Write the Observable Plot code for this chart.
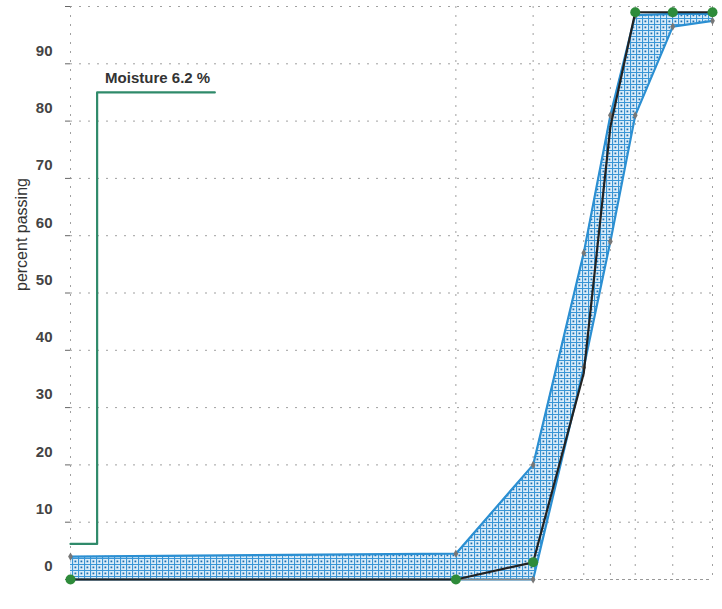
<!DOCTYPE html>
<html>
<head>
<meta charset="utf-8">
<script src="https://cdn.jsdelivr.net/npm/d3@7"></script>
<script src="https://cdn.jsdelivr.net/npm/@observablehq/plot@0.6"></script>
<style>
  html, body { margin: 0; padding: 0; background: #fff; }
  #chart svg { display: block; }
</style>
</head>
<body>
<div id="chart"></div>
<script>
// sieve sizes (mm)
const sieves = [0.063, 2, 4, 6.3, 8, 10, 14, 20];
const sieveLabels = ["0.063", "2", "4", "6.3", "8", "10", "14", "20"];
// specification envelope
const upperLimit = [4, 4.5, 20, 57, 81, 98.5, 98.7, 98.7];
const lowerLimit = [0, 0, 0, 37, 59, 81, 96.5, 97.5];
// measured grading curve
const passing = [0, 0, 3, 36, 79, 99, 99, 99];
const measuredPoint = [true, true, true, false, false, true, true, true];
// moisture indicator
const moistureX = [0.063, 0.08, 0.08, 0.23];
const moistureY = [6.2, 6.2, 85, 85];
const moistureLabel = "Moisture 6.2 %";
const yTicks = [0, 10, 20, 30, 40, 50, 60, 70, 80, 90];
const yGrid = [10, 20, 30, 40, 50, 60, 70, 80, 90, 100];

const band = sieves.map((s, i) => ({s, lo: lowerLimit[i], hi: upperLimit[i]}));
const curve = sieves.map((s, i) => ({s, p: passing[i], m: measuredPoint[i]}));
const moisture = moistureX.map((x, i) => ({x, y: moistureY[i]}));

const font = "Arial, 'Liberation Sans', sans-serif";

const chart = Plot.plot({
  width: 722,
  height: 609,
  marginLeft: 70,
  marginRight: 10,
  marginTop: 6,
  marginBottom: 30,
  style: {fontFamily: font, fontSize: "15px", color: "#333", background: "#fff"},
  x: {type: "log", domain: [0.063, 20]},
  y: {domain: [0, 100]},
  marks: [
    Plot.gridY(yGrid, {stroke: "#888", strokeOpacity: 0.8, strokeDasharray: "2,7"}),
    Plot.gridX(sieves, {stroke: "#888", strokeOpacity: 0.8, strokeDasharray: "2,7"}),
    Plot.ruleY([0], {stroke: "#999", strokeDasharray: "3,3"}),
    Plot.axisY(yTicks, {tickSize: 0, tickPadding: 18, dy: -13, fontSize: 15, fontWeight: "bold", fill: "#444", label: null}),
    Plot.axisY(yTicks.concat([100]), {tickSize: 5, tickFormat: () => "", stroke: "#666", label: null}),
    Plot.axisX(sieves, {tickSize: 0, tickPadding: 8, tickFormat: (d, i) => sieveLabels[i], fontSize: 15, fontWeight: "bold", fill: "#444", label: null}),
    Plot.text(["percent passing"], {frameAnchor: "left", dx: -49, dy: -2, rotate: -90, fontSize: 16, fill: "#333"}),
    // envelope
    Plot.areaY(band, {x: "s", y1: "lo", y2: "hi", fill: "url(#hatch)", curve: "linear"}),
    Plot.line(band, {x: "s", y: "hi", stroke: "#2b8fd2", strokeWidth: 2.2}),
    Plot.line(band, {x: "s", y: "lo", stroke: "#2b8fd2", strokeWidth: 2.2}),
    Plot.line(band.slice(0, 3), {x: "s", y: "lo", stroke: "#888", strokeWidth: 1.5}),
    Plot.dot(band, {x: "s", y: "hi", r: 2.5, fill: "#777", symbol: "diamond"}),
    Plot.dot(band, {x: "s", y: "lo", r: 2.5, fill: "#777", symbol: "diamond"}),
    // moisture
    Plot.line(moisture, {x: "x", y: "y", stroke: "#2f8a6a", strokeWidth: 2.2}),
    Plot.text([moistureLabel], {x: [moistureX[1]], y: [moistureY[2]], dx: 8, dy: -14, textAnchor: "start", fontSize: 15, fontWeight: "bold", fill: "#333"}),
    // measured curve
    Plot.line(curve, {x: "s", y: "p", stroke: "#222", strokeWidth: 2.2}),
    Plot.dot(curve.filter(d => d.m), {x: "s", y: "p", r: 5, fill: "#2e8b3a"})
  ]
});

const defs = d3.select(chart).insert("defs", ":first-child");
const pat = defs.append("pattern")
  .attr("id", "hatch").attr("patternUnits", "userSpaceOnUse")
  .attr("width", 6).attr("height", 6);
pat.append("rect").attr("width", 6).attr("height", 6).attr("fill", "#dcedf9");
pat.append("path").attr("d", "M0,0.5H6M0.5,0V6").attr("stroke", "#3a96d6").attr("stroke-width", 1.2);
pat.append("rect").attr("x", 2.5).attr("y", 2.5).attr("width", 1.8).attr("height", 1.8).attr("fill", "#1f6fb0");

document.getElementById("chart").appendChild(chart);
</script>
</body>
</html>
